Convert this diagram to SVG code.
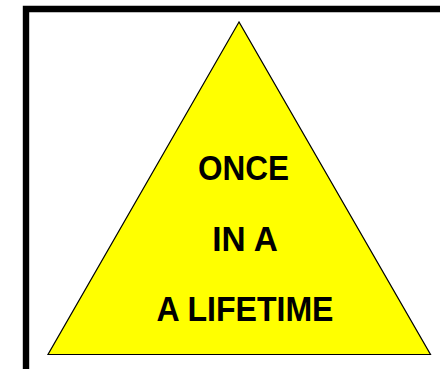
<svg xmlns="http://www.w3.org/2000/svg" width="440" height="369" viewBox="0 0 440 369">
<style>
.frame{fill:none;stroke:#000;stroke-width:6.4}
.tri{fill:#ffff00;stroke:#000;stroke-width:1.2;stroke-linejoin:miter}
.lbl{font-family:"Liberation Sans",Arial,sans-serif;font-weight:bold;font-size:34.5px;fill:#000;text-anchor:middle}
</style>
<rect width="440" height="369" fill="#fff"/>
<g id="frame"><path class="frame" d="M26,369 V9 H440"/></g>
<g id="triangle">
<polygon class="tri" points="239,22 48,354.5 430.5,354.5"/>
<text class="lbl" x="243.5" y="179.5" textLength="91" lengthAdjust="spacingAndGlyphs">ONCE</text>
<text class="lbl" x="245" y="250.5" textLength="65.5" lengthAdjust="spacingAndGlyphs">IN A</text>
<text class="lbl" x="245" y="321" textLength="177" lengthAdjust="spacingAndGlyphs">A LIFETIME</text>
</g>
</svg>
